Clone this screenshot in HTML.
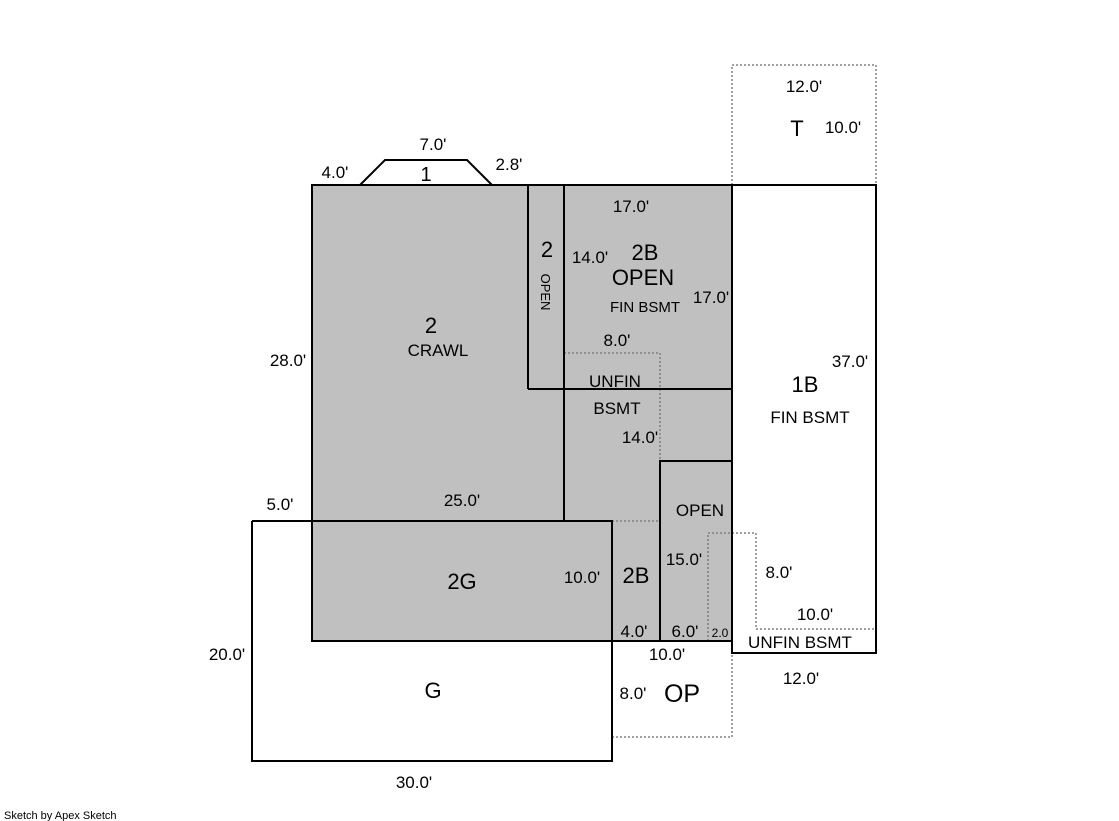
<!DOCTYPE html>
<html><head><meta charset="utf-8"><style>
html,body{margin:0;padding:0;background:#fff;}
svg{display:block;}
text{font-family:"Liberation Sans",sans-serif;fill:#000;}
</style></head><body>
<svg width="1119" height="821" viewBox="0 0 1119 821" xmlns="http://www.w3.org/2000/svg">
<rect x="0" y="0" width="1119" height="821" fill="#fff"/>
<rect x="312" y="185" width="420" height="456" fill="#c0c0c0"/>
<rect x="732" y="185" width="144" height="468" fill="#fff"/>
<g fill="none" stroke="#808080" stroke-width="1.5" stroke-dasharray="2,2">
<rect x="732" y="65" width="144" height="120"/>
<polyline points="564,353 660,353 660,461"/>
<line x1="612" y1="521" x2="660" y2="521"/>
<polyline points="708,641 708,533 756,533 756,629 876,629"/>
<polyline points="612,737 732,737 732,653"/>
</g>
<g fill="none" stroke="#000" stroke-width="2">
<rect x="312" y="185" width="420" height="456"/>
<rect x="732" y="185" width="144" height="468"/>
<polyline points="252,521 612,521 612,761 252,761 252,521"/>
<line x1="528" y1="185" x2="528" y2="389"/>
<line x1="564" y1="185" x2="564" y2="521"/>
<line x1="528" y1="389" x2="732" y2="389"/>
<polyline points="660,641 660,461 732,461"/>
<polyline points="360,185 385,160 467,160 492,185"/>
</g>
<g font-size="17" text-anchor="middle">
<text x="433" y="150">7.0'</text>
<text x="335" y="178">4.0'</text>
<text x="509" y="170">2.8'</text>
<text x="426" y="181" font-size="20">1</text>
<text x="804" y="92">12.0'</text>
<text x="797" y="136" font-size="22">T</text>
<text x="843" y="133">10.0'</text>
<text x="631" y="212">17.0'</text>
<text x="547" y="257" font-size="22">2</text>
<text x="590" y="263">14.0'</text>
<text x="645" y="260" font-size="22">2B</text>
<text x="643" y="285" font-size="22">OPEN</text>
<text x="645" y="312" font-size="15">FIN BSMT</text>
<text x="711" y="303">17.0'</text>
<text x="431" y="333" font-size="22">2</text>
<text x="438" y="356">CRAWL</text>
<text x="288" y="366">28.0'</text>
<text x="617" y="346">8.0'</text>
<text x="615" y="387">UNFIN</text>
<text x="617" y="414">BSMT</text>
<text x="640" y="443">14.0'</text>
<text x="850" y="367">37.0'</text>
<text x="805" y="392" font-size="22">1B</text>
<text x="810" y="423">FIN BSMT</text>
<text x="280" y="510">5.0'</text>
<text x="462" y="506">25.0'</text>
<text x="700" y="516">OPEN</text>
<text x="462" y="589" font-size="22">2G</text>
<text x="582" y="583">10.0'</text>
<text x="636" y="583" font-size="22">2B</text>
<text x="684" y="565">15.0'</text>
<text x="779" y="578">8.0'</text>
<text x="815" y="620">10.0'</text>
<text x="634" y="637">4.0'</text>
<text x="685" y="637">6.0'</text>
<text x="720" y="637" font-size="12">2.0</text>
<text x="800" y="648">UNFIN BSMT</text>
<text x="227" y="660">20.0'</text>
<text x="667" y="660">10.0'</text>
<text x="801" y="684">12.0'</text>
<text x="433" y="698" font-size="22">G</text>
<text x="633" y="699">8.0'</text>
<text x="682" y="702" font-size="25">OP</text>
<text x="414" y="788">30.0'</text>
</g>
<text x="0" y="0" font-size="13" text-anchor="middle" transform="translate(541,292) rotate(90)">OPEN</text>
<text x="4" y="819" font-size="11">Sketch by Apex Sketch</text>
</svg>
</body></html>
